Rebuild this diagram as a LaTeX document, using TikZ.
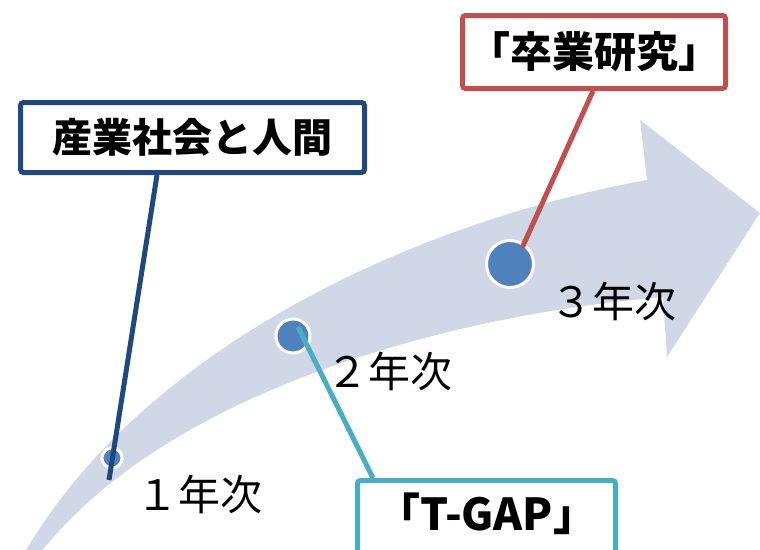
\documentclass[tikz,border=0pt]{standalone}
\usepackage{fontspec}
\newfontfamily\jpfont{Noto Sans CJK JP}
\usetikzlibrary{positioning}
\definecolor{bandblue}{HTML}{D0D8E8}
\definecolor{dotblue}{HTML}{4F81BD}
\definecolor{navyline}{HTML}{1F497D}
\definecolor{redline}{HTML}{C0504D}
\definecolor{tealline}{HTML}{4BACC6}

\begin{document}
\begin{tikzpicture}[x=1pt,y=-1pt]
\tikzset{
  stagedot/.style={circle,fill=dotblue,draw=white,line width=3pt,inner sep=0pt},
  callout/.style={draw,line width=5pt,rounded corners=3pt,fill=white,inner sep=0pt,font=\jpfont\bfseries\fontsize{40pt}{48pt}\selectfont},
  leader/.style={line width=5pt},
  yearlabel/.style={inner sep=0pt,font=\jpfont\fontsize{42pt}{50pt}\selectfont}
}
\useasboundingbox (0,0) rectangle (760,549);
\clip (0,0) rectangle (760,549);
% curved arrow
\fill[bandblue] (25,552) .. controls (140,355) and (400,225) .. (647,180) -- (640,120) -- (760,213) -- (667,357) -- (663,297) .. controls (450,315) and (170,390) .. (41,552) -- cycle;
\node[stagedot,minimum size=20pt] (n_dot1) at (112,458) {};
\node[stagedot,minimum size=34pt] (n_dot2) at (293,336) {};
\node[stagedot,minimum size=47pt] (n_dot3) at (510,264) {};
\node[yearlabel] (n_year1) at (199,494) {１年次};
\node[yearlabel] (n_year2) at (389,371) {２年次};
\node[yearlabel] (n_year3) at (613,301) {３年次};
\node[callout,draw=navyline,minimum width=344pt,minimum height=70pt] (n_sangyo) at (192.5,137.5) {産業社会と人間};
\node[callout,draw=redline,minimum width=263pt,minimum height=73pt,font=\jpfont\bfseries\fontsize{42pt}{50pt}\selectfont] (n_sotsugyo) at (594,52) {「卒業研究」};
\node[callout,draw=tealline,minimum width=258pt,minimum height=79pt,text height=30pt,text depth=10pt,font=\jpfont\bfseries\fontsize{44pt}{52pt}\selectfont] (n_tgap) at (486.5,520) {「T-GAP」};
\coordinate (n_foot1) at (109,480);
\draw[leader,navyline] ([xshift=-35.5pt]n_sangyo.south) -- (n_foot1);
\draw[leader,tealline] ([shift={(5pt,9pt)}]n_dot2.center) -- ([xshift=-113.5pt]n_tgap.north);
\draw[leader,redline] ([xshift=-1pt]n_sotsugyo.south) -- ([shift={(12pt,16pt)}]n_dot3.center);
\end{tikzpicture}
\end{document}
